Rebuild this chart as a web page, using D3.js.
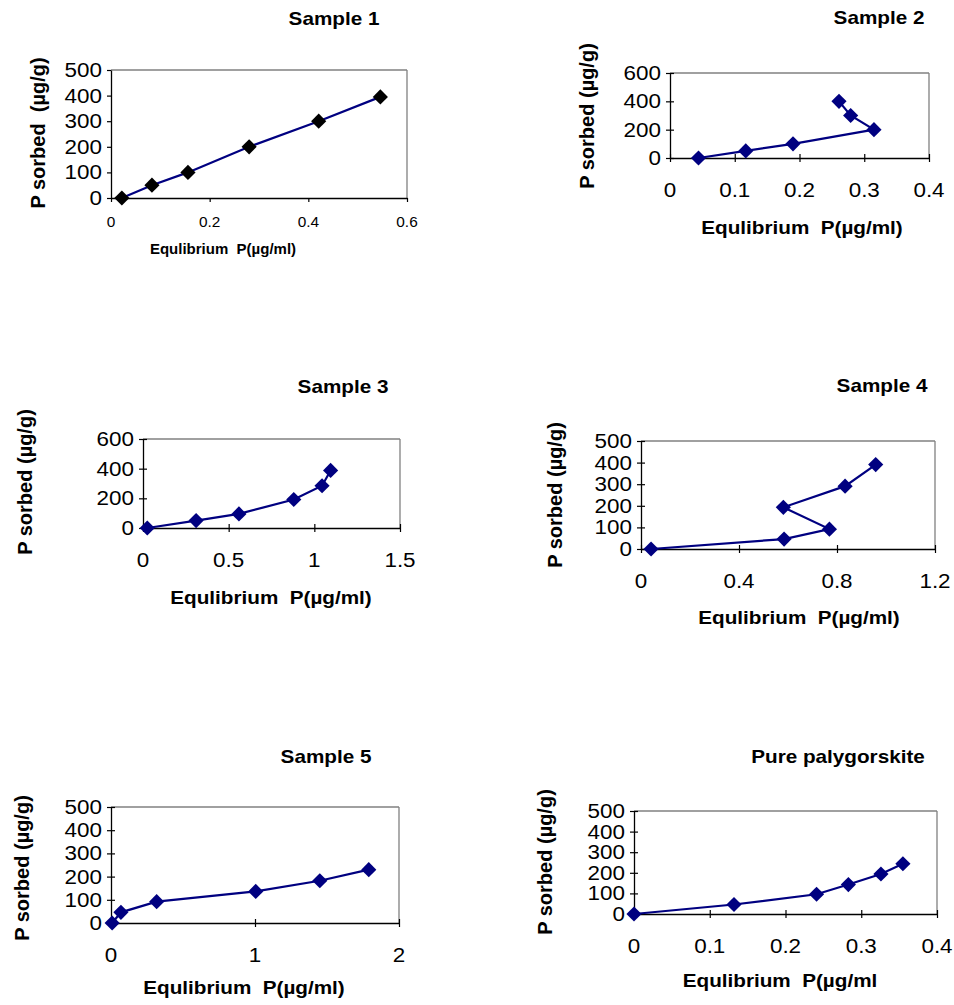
<!DOCTYPE html>
<html>
<head>
<meta charset="utf-8">
<script src="https://cdn.jsdelivr.net/npm/d3@7"></script>
<style>
  body { margin: 0; background: #fff; }
  text { font-family: Arial, "Liberation Sans", sans-serif; fill: #000; white-space: pre; }
</style>
</head>
<body>
<svg id="chart" width="954" height="1005"></svg>
<script>
// data (equilibrium P in ug/ml, P sorbed in ug/g)
var titles = ["Sample 1", "Sample 2", "Sample 3", "Sample 4", "Sample 5", "Pure palygorskite"];
var xTitles = ["Equlibrium  P(\u00b5g/ml)", "Equlibrium  P(\u00b5g/ml)", "Equlibrium  P(\u00b5g/ml)",
               "Equlibrium  P(\u00b5g/ml)", "Equlibrium  P(\u00b5g/ml)", "Equlibrium  P(\u00b5g/ml"];
var yTitles = ["P sorbed  (\u00b5g/g)", "P sorbed (\u00b5g/g)", "P sorbed (\u00b5g/g)",
               "P sorbed (\u00b5g/g)", "P sorbed (\u00b5g/g)", "P sorbed (\u00b5g/g)"];

var s1x = [0.022, 0.083, 0.156, 0.28, 0.421, 0.546];
var s1y = [0, 50, 100, 200, 300, 395];
var s2x = [0.044, 0.117, 0.19, 0.315, 0.279, 0.261];
var s2y = [0, 50, 100, 200, 300, 400];
var s3x = [0.025, 0.31, 0.56, 0.88, 1.045, 1.095];
var s3y = [0, 50, 95, 192, 285, 388];
var s4x = [0.041, 0.584, 0.769, 0.581, 0.833, 0.958];
var s4y = [0, 46, 92, 193, 291, 391];
var s5x = [0.008, 0.069, 0.317, 1.005, 1.45, 1.79];
var s5y = [0, 46, 92, 136, 182, 230];
var s6x = [0, 0.132, 0.241, 0.283, 0.326, 0.355];
var s6y = [0, 46, 96, 143, 194, 244];

var xDomains = [[0, 0.6], [0, 0.4], [0, 1.5], [0, 1.2], [0, 2], [0, 0.4]];
var yDomains = [[0, 500], [0, 600], [0, 600], [0, 500], [0, 500], [0, 500]];
var xTicks = [[0, 0.2, 0.4, 0.6], [0, 0.1, 0.2, 0.3, 0.4], [0, 0.5, 1, 1.5],
              [0, 0.4, 0.8, 1.2], [0, 1, 2], [0, 0.1, 0.2, 0.3, 0.4]];
var yTicks = [[0, 100, 200, 300, 400, 500], [0, 200, 400, 600], [0, 200, 400, 600],
              [0, 100, 200, 300, 400, 500], [0, 100, 200, 300, 400, 500], [0, 100, 200, 300, 400, 500]];
var seriesX = [s1x, s2x, s3x, s4x, s5x, s6x];
var seriesY = [s1y, s2y, s3y, s4y, s5y, s6y];

// layout of each panel
var panels = [
  { l: 111, r: 407, t: 70,  b: 198, title: [334, 19], yt: [38, 133],  xt: [223, 248], marker: "#000",    small: true },
  { l: 670, r: 929, t: 73,  b: 158, title: [879, 18], yt: [587, 116], xt: [802, 228], marker: "#000080", small: false },
  { l: 143, r: 400, t: 439, b: 528, title: [343, 387], yt: [25, 482], xt: [271, 598], marker: "#000080", small: false },
  { l: 641, r: 935, t: 441, b: 549, title: [882, 386], yt: [555, 495], xt: [799, 618], marker: "#000080", small: false },
  { l: 111, r: 399, t: 807, b: 923, title: [326, 757], yt: [22, 868], xt: [244, 988], marker: "#000080", small: false },
  { l: 634, r: 937, t: 811, b: 914, title: [838, 757], yt: [545, 862], xt: [780, 981], marker: "#000080", small: false }
];

var svg = d3.select("#chart");
var stretch = 1.15;

function addText(g, x, y, str, size, weight, anchor, sx) {
  return g.append("text")
    .attr("transform", "translate(" + x + "," + y + ") scale(" + sx + ",1)")
    .attr("text-anchor", anchor)
    .attr("dominant-baseline", "central")
    .attr("xml:space", "preserve")
    .style("font-size", size + "px")
    .style("font-weight", weight)
    .text(str);
}

function fmt(v) { return String(+v.toFixed(2)); }

function drawPanel(i) {
  var p = panels[i];
  var g = svg.append("g").attr("class", "panel panel-" + i);

  var xscale = d3.scaleLinear().domain(xDomains[i]).range([p.l, p.r]);
  var yscale = d3.scaleLinear().domain(yDomains[i]).range([p.b, p.t]);

  // plot frame: grey top/right, black axes
  g.append("line").attr("x1", p.l).attr("x2", p.r).attr("y1", p.t).attr("y2", p.t)
    .attr("stroke", "#808080").attr("stroke-width", 1.3);
  g.append("line").attr("x1", p.r).attr("x2", p.r).attr("y1", p.t).attr("y2", p.b)
    .attr("stroke", "#808080").attr("stroke-width", 1.3);

  var tin = p.small ? 0 : 4;
  var tout = 4;

  var yAxis = d3.axisLeft(yscale).tickValues(yTicks[i]).tickSizeInner(tout).tickSizeOuter(0).tickFormat("");
  var ya = g.append("g").attr("transform", "translate(" + p.l + ",0)").call(yAxis);
  var xAxis = d3.axisBottom(xscale).tickValues(xTicks[i]).tickSizeInner(tout).tickSizeOuter(0).tickFormat("");
  var xa = g.append("g").attr("transform", "translate(0," + p.b + ")").call(xAxis);
  [ya, xa].forEach(function(a) {
    a.select(".domain").attr("stroke", "#000").attr("stroke-width", 1.3);
    a.selectAll(".tick line").attr("stroke", "#000").attr("stroke-width", 1.2);
  });
  // cross ticks reach into the plot too
  ya.selectAll(".tick line").attr("x2", -tout).attr("x1", tin);
  xa.selectAll(".tick line").attr("y2", tout).attr("y1", -tin);

  // tick labels
  yTicks[i].forEach(function(v) {
    addText(g, p.l - 9, yscale(v), String(v), 19.5, "normal", "end", stretch);
  });
  var xfs = p.small ? 14 : 19.5;
  var xoff = p.small ? 24 : 32;
  xTicks[i].forEach(function(v) {
    addText(g, xscale(v), p.b + xoff, fmt(v), xfs, "normal", "middle", p.small ? 1.1 : stretch);
  });

  // titles
  addText(g, p.title[0], p.title[1], titles[i], 18, "bold", "middle", stretch);
  addText(g, p.xt[0], p.xt[1], xTitles[i], p.small ? 15 : 18, "bold", "middle", p.small ? 1 : stretch);
  g.append("text")
    .attr("transform", "translate(" + p.yt[0] + "," + p.yt[1] + ") rotate(-90)")
    .attr("text-anchor", "middle")
    .attr("dominant-baseline", "central")
    .attr("xml:space", "preserve")
    .style("font-size", "20px")
    .style("font-weight", "bold")
    .text(yTitles[i]);

  // series line + diamond markers
  var pts = seriesX[i].map(function(x, k) { return [x, seriesY[i][k]]; });
  var line = d3.line()
    .x(function(d) { return xscale(d[0]); })
    .y(function(d) { return yscale(d[1]); });
  g.append("path").datum(pts)
    .attr("d", line)
    .attr("fill", "none")
    .attr("stroke", "#000080")
    .attr("stroke-width", 2.2);

  var sym = d3.symbol().type(d3.symbolSquare).size(115);
  g.selectAll(".pt").data(pts).enter().append("path")
    .attr("class", "pt")
    .attr("d", sym)
    .attr("transform", function(d) {
      return "translate(" + xscale(d[0]) + "," + yscale(d[1]) + ") rotate(45)";
    })
    .attr("fill", p.marker);
}

for (var i = 0; i < panels.length; i++) {
  drawPanel(i);
}
</script>
</body>
</html>
